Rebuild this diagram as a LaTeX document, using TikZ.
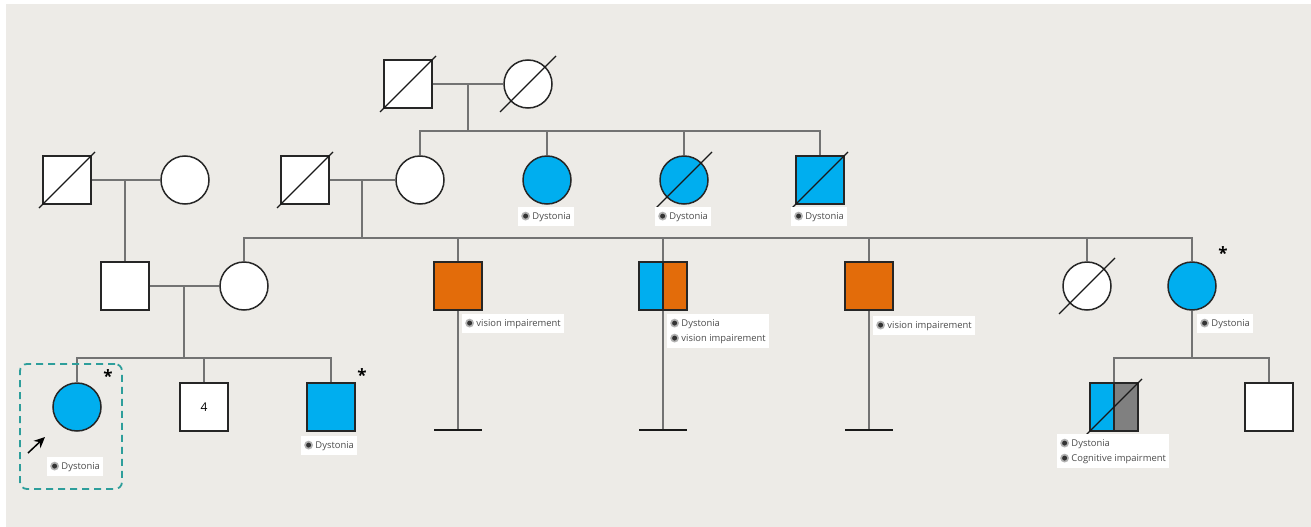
\documentclass[tikz,border=0pt]{standalone}
\usepackage{fontspec}
\setmainfont{Open Sans}
\usepackage{xcolor}
\usetikzlibrary{arrows.meta}
\definecolor{bgpaper}{HTML}{EDEBE7}
\definecolor{dystblue}{HTML}{00AEEF}
\definecolor{visorange}{HTML}{E36C0A}
\definecolor{cogngray}{HTML}{808080}
\definecolor{probteal}{HTML}{2E9E9B}
\newcommand{\traitdot}{\tikz[baseline=-0.6ex]{\fill[black!30] (0,0) circle (4.4pt); \fill[black!80] (0,0) circle (2.5pt);}}

\begin{document}
\begin{tikzpicture}[x=1pt,y=-1pt,
  male/.style={draw=black!85,line width=1.5pt,fill=white,minimum size=48pt,inner sep=0pt},
  female/.style={male,circle},
  split/.style 2 args={male,fill=#1,path picture={
      \fill[#2] (path picture bounding box.north) rectangle (path picture bounding box.south east);
      \draw[line width=1.5pt,black!85] (path picture bounding box.north) -- (path picture bounding box.south);}},
  rel/.style={draw=black!55,line width=1.1pt},
  dead/.style={draw=black!90,line width=1.3pt},
  nochild/.style={draw=black!90,line width=2pt},
  trait/.style={fill=white,text=black!70,inner xsep=3pt,inner ysep=4.5pt,anchor=north west,align=left,
                font=\fontsize{9.4}{15}\selectfont},
  astx/.style={font=\bfseries\fontsize{17}{17}\selectfont,inner sep=0pt},
  probbox/.style={draw=probteal,line width=1.8pt,dash pattern=on 7pt off 5pt,
                  rounded corners=7pt,minimum width=102pt,minimum height=125pt},
  arr/.style={-{Stealth[length=11pt,width=10pt]},line width=1.5pt}
]
\useasboundingbox (0,0) rectangle (1311,527);
\fill[white] (0,0) rectangle (1311,527);
\fill[bgpaper] (6,4) rectangle (1311,527);

\node[male] (I1) at (408,84) {};
\node[female] (I2) at (528,84) {};

\node[male] (II1) at (67,180) {};
\node[female] (II2) at (185,180) {};
\node[male] (II3) at (305,180) {};
\node[female] (II4) at (420,180) {};
\node[female,fill=dystblue] (II5) at (547,180) {};
\node[female,fill=dystblue] (II6) at (684,180) {};
\node[male,fill=dystblue] (II7) at (820,180) {};

\node[male] (III1) at (125,286) {};
\node[female] (III2) at (244,286) {};
\node[male,fill=visorange] (III3) at (458,286) {};
\node[split={dystblue}{visorange}] (III4) at (663,286) {};
\node[male,fill=visorange] (III5) at (869,286) {};
\node[female] (III6) at (1087,286) {};
\node[female,fill=dystblue] (III7) at (1192,286) {};

\node[female,fill=dystblue] (IV1) at (77,407) {};
\node[male,font=\fontsize{12}{12}\selectfont] (IV2) at (204,407) {4};
\node[male,fill=dystblue] (IV3) at (331,407) {};
\node[split={dystblue}{cogngray}] (IV4) at (1114,407) {};
\node[male] (IV5) at (1269,407) {};

\draw[dead] (I1) ++(-28,28) -- ++(56,-56);
\draw[dead] (I2) ++(-28,28) -- ++(56,-56);
\draw[dead] (II1) ++(-28,28) -- ++(56,-56);
\draw[dead] (II3) ++(-28,28) -- ++(56,-56);
\draw[dead] (II6) ++(-28,28) -- ++(56,-56);
\draw[dead] (II7) ++(-28,28) -- ++(56,-56);
\draw[dead] (III6) ++(-28,28) -- ++(56,-56);
\draw[dead] (IV4) ++(-28,28) -- ++(56,-56);

\coordinate (c1) at (468,84);
\coordinate (s1) at (468,131);
\draw[rel] (I1) -- (I2);
\draw[rel] (c1) -- (s1);
\draw[rel] (II4) |- (s1) -| (II7);
\draw[rel] (II5) -- (II5 |- s1);
\draw[rel] (II6) -- (II6 |- s1);

\coordinate (c2) at (III1 |- II1);
\draw[rel] (II1) -- (II2);
\draw[rel] (c2) -- (III1);

\coordinate (c3) at (362,180);
\coordinate (s3) at (362,238);
\draw[rel] (II3) -- (II4);
\draw[rel] (c3) -- (s3);
\draw[rel] (III2) |- (s3) -| (III7);
\draw[rel] (III3) -- (III3 |- s3);
\draw[rel] (III4) -- (III4 |- s3);
\draw[rel] (III5) -- (III5 |- s3);
\draw[rel] (III6) -- (III6 |- s3);

\coordinate (c4) at (184,286);
\coordinate (s4) at (184,358);
\draw[rel] (III1) -- (III2);
\draw[rel] (c4) -- (s4);
\draw[rel] (IV1) |- (s4) -| (IV3);
\draw[rel] (IV2) -- (IV2 |- s4);

\coordinate (s5) at (1192,358);
\draw[rel] (III7) -- (s5);
\draw[rel] (IV4) |- (s5) -| (IV5);

\coordinate (n3) at (458,430);
\coordinate (n4) at (663,430);
\coordinate (n5) at (869,430);
\draw[rel] (III3) -- (n3);
\draw[rel] (III4) -- (n4);
\draw[rel] (III5) -- (n5);
\draw[nochild] (n3) ++(-24,0) -- ++(48,0);
\draw[nochild] (n4) ++(-24,0) -- ++(48,0);
\draw[nochild] (n5) ++(-24,0) -- ++(48,0);

\node[trait] (L5) at (518,207) {\traitdot\ Dystonia};
\node[trait] (L6) at (655,207) {\traitdot\ Dystonia};
\node[trait] (L7) at (791,207) {\traitdot\ Dystonia};
\node[trait] (L8) at (462,314) {\traitdot\ vision impairement};
\node[trait] (L9) at (667,314) {\traitdot\ Dystonia\\\traitdot\ vision impairement};
\node[trait] (L10) at (873,316) {\traitdot\ vision impairement};
\node[trait] (L11) at (1197,314) {\traitdot\ Dystonia};
\node[trait] (L12) at (301,436) {\traitdot\ Dystonia};
\node[trait] (L13) at (1057,434) {\traitdot\ Dystonia\\\traitdot\ Cognitive impairment};
\node[trait] (L14) at (47,457) {\traitdot\ Dystonia};

\node[astx] (a1) at (108,376) {*};
\node[astx] (a2) at (362,375) {*};
\node[astx] (a3) at (1223,253) {*};

\node[probbox] (pbx) at (71,426.5) {};
\coordinate (parr) at (28,453);
\draw[arr] (parr) -- ++(17,-16);
\end{tikzpicture}
\end{document}
